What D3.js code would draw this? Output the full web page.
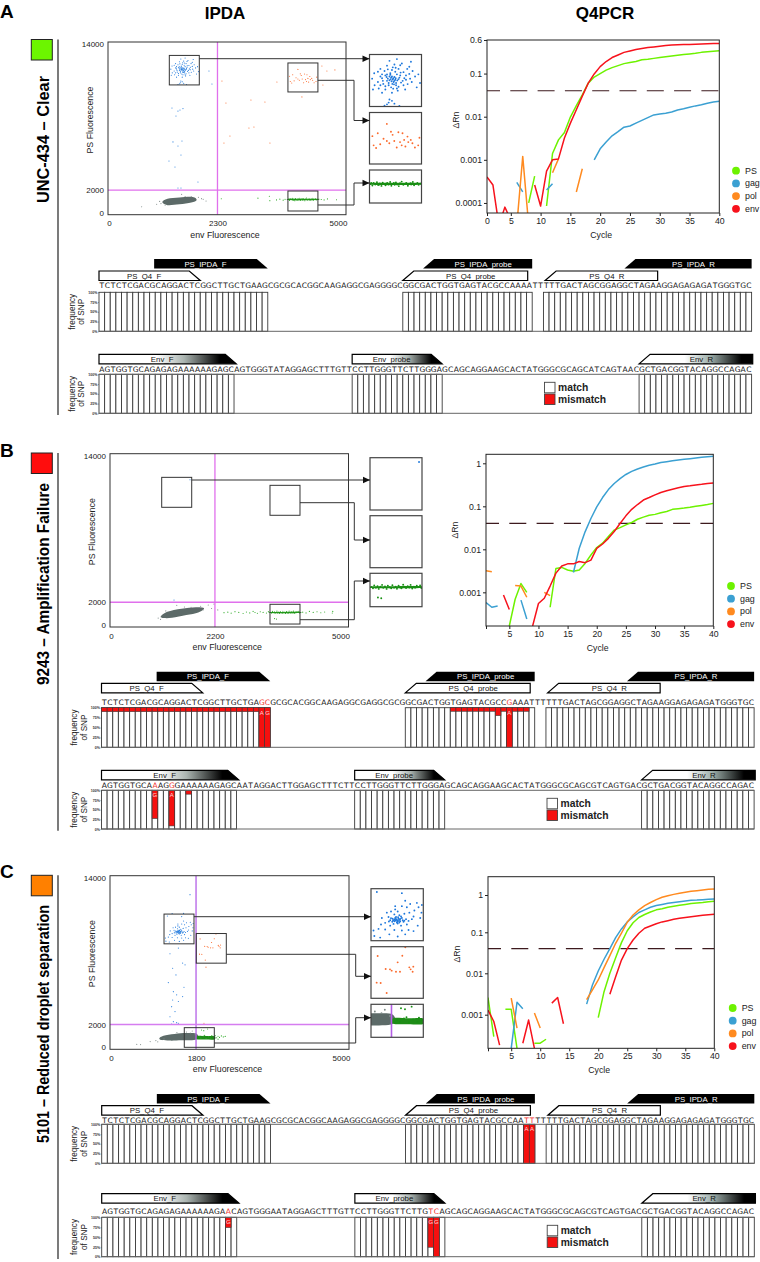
<!DOCTYPE html>
<html>
<head>
<meta charset="utf-8">
<script src="https://cdn.jsdelivr.net/npm/d3@7"></script>
<style>
  html, body { margin: 0; padding: 0; background: #fff; }
  svg { display: block; font-family: "Liberation Sans", Arial, sans-serif; }
  .seq { font-family: "DejaVu Sans", sans-serif; }
</style>
</head>
<body>
<div id="chart"></div>
<script>
// ---- droplet values, [env, PS] fluorescence ----
const blueA = [[1560,11900],[1600,11750],[1510,11800],[1480,11950],[1540,12050],[1620,12000],[1650,11850],[1580,11650],[1520,11600],[1450,11700],[1420,11900],[1390,11650],[1470,12150],[1560,12200],[1640,12250],[1700,12100],[1730,11950],[1690,11700],[1750,11550],[1610,11500],[1550,11400],[1480,11450],[1400,11350],[1350,11500],[1320,11800],[1345,12050],[1420,12250],[1500,12400],[1590,12450],[1680,12500],[1770,12350],[1810,12150],[1840,11900],[1800,11650],[1860,11400],[1720,11300],[1630,11250],[1560,11150],[1440,11150],[1520,10700],[1500,10620],[1560,10780],[1590,10650],[1470,10560],[1650,10550],[1540,11980],[1575,11820],[1530,11730],[1590,11880],[1610,11600],[1495,11880],[1660,11950],[1440,12000],[1700,11500],[1625,11720],[1565,11560],[1455,11560],[1745,12250],[1390,12120],[1330,11300],[1790,12580],[1620,12700],[1530,12620],[1900,11600],[1880,12000],[1660,12420],[1570,12320],[1730,11750],[1510,12230],[1600,12120],
  [1550,11850],[1570,11760],[1590,11700],[1530,11900],[1605,11820],[1640,11780],[1555,11680],[1500,11700],[1670,11620],[1585,11540],[1520,11500],[1640,11430],[1575,11340],[1665,12080],[1605,12300],[1545,11780],[1500,11990],[1710,11820],[1440,11820],[1480,11300],[1530,10840],[1620,11350],[1780,11800],[1770,12020],[1420,11500],
  [2121,11650],[2184,10600],[1344,8650],[1512,8490],[1575,8600],[1428,8000],[1470,8400],[1365,5900],[1470,5570],[1554,5980],[1281,4350],[1407,3870],[1533,4840],[1470,2170],[1533,2170],[1890,2650]];
const orangeA = [[3815,11220],[3880,11350],[3950,11100],[3910,10850],[3990,11000],[3830,10800],[4060,11280],[4080,11000],[4130,11400],[4180,11350],[4200,11050],[4170,10800],[4240,11200],[4250,10950],[4300,10900],[4385,11150],[4370,10800],[3990,11780],[4110,10700],[4020,10900],[4150,10950],[4215,10750],[4040,11420],[4280,11050],[3860,10680],[4330,10700],
  [2394,10840],[2478,9060],[3003,9300],[3297,9140],[3549,10760],[4074,9550],[2961,7030],[3066,7110],[2562,6380],[2436,5810],[3402,5810],[4494,12060],[4599,11650],[4767,11740],[4515,10520]];
const greenA = [[3790,1230],[3815,1160],[3830,1290],[3850,1210],[3870,1320],[3885,1180],[3905,1260],[3925,1140],[3940,1300],[3960,1220],[3975,1170],[3995,1280],[4010,1200],[4030,1330],[4045,1150],[4065,1240],[4085,1190],[4100,1310],[4115,1210],[4135,1130],[4150,1270],[4170,1350],[4190,1190],[4205,1230],[4225,1290],[4245,1150],[4265,1250],[4285,1210],[4305,1330],[4320,1170],[4340,1240],[4360,1290],[4375,1190],[4395,1260],[3800,1290],[3900,1200],[3980,1250],[4075,1280],[4180,1240],[4280,1270],
  [2380,1290],[3150,1340],[3390,1500],[3400,1140],[3540,1200],[3610,1260],[3680,1180],[3720,1250],[4480,1230],[4540,1200],[4610,1280],[4800,1210],[4430,1260]];
const grayA = [[707,650],[1547,1650],[2060,1110],[1966,1300],[1022,850],[1113,900],[1900,1420],[1085,1080],[2000,1250],[1620,1480],[1200,780],[1750,1450]];
const hullA = [[1141,1020],[1250,1290],[1500,1400],[1780,1440],[1862,1200],[1750,980],[1500,840],[1250,770]];
const bandA = [[3790,1280],[4100,1290],[4400,1280],[4400,1190],[4100,1180],[3790,1190]];

const blueB = [[1677,11890],[1342,2180]];
const orangeB = [];
const greenB = [[3370,1180],[3390,1120],[3405,1260],[3425,1150],[3445,1220],[3460,1090],[3480,1190],[3500,1280],[3515,1140],[3535,1210],[3555,1090],[3570,1240],[3590,1170],[3610,1120],[3625,1270],[3645,1150],[3665,1200],[3680,1100],[3700,1240],[3720,1160],[3735,1120],[3755,1290],[3775,1190],[3790,1130],[3810,1220],[3830,1160],[3845,1280],[3865,1110],[3885,1200],[3900,1150],[3920,1240],[3940,1180],[3960,1260],[3975,1130],[3450,680],[3490,640],
  [2390,1160],[2470,1200],[2540,1120],[2620,1240],[2700,1180],[2790,1090],[2860,1210],[2930,1140],[3000,1260],[3040,1170],[3090,1110],[3150,1230],[3210,1180],[3280,1130],[3320,1240],[4040,1200],[4110,1140],[4180,1260],[4260,1180],[4340,1230],[4420,1150],[4500,1210],[4670,1260],[4660,1130]];
const grayB = [[1060,620],[1400,1750],[1560,1620],[1900,1680],[2060,1780],[2180,1850],[2260,1380],[1010,720],[1700,1600],[1950,1380],[2130,1500],[1170,1300]];
const hullB = [[1062,850],[1200,1230],[1500,1480],[1800,1600],[1971,1520],[1850,1170],[1600,960],[1300,740],[1130,720]];
const bandB = [[3360,1210],[3670,1220],[3980,1220],[3980,1130],[3670,1120],[3360,1130]];

const blueC = [[1437,9465],[1460,9520],[1410,9400],[1480,9400],[1390,9520],[1430,9600],[1500,9550],[1360,9450],[1450,9300],[1400,9280],[1520,9380],[1340,9600],[1470,9680],[1410,9720],[1550,9500],[1580,9420],[1300,9330],[1360,9200],[1490,9200],[1560,9250],[1620,9500],[1640,9620],[1530,9750],[1450,9850],[1370,9850],[1590,9800],[1650,9900],[1700,10050],[1680,10250],[1560,10050],[1500,10100],[1420,10100],[1600,10200],[1540,10350],[1420,9950],[1320,9800],[1260,9550],[1250,9250],[1220,9050],[1300,9020],[1410,9000],[1500,8980],[1580,9000],[1160,8980],[1170,8720],[1240,8650],[1350,8800],[1450,8700],[1540,8800],[1640,8950],[1690,9200],[1720,9550],[1735,9800],[1500,10700],[1200,10750],[1740,10150],[1470,9470],[1420,9510],[1445,9380],[1395,9450],
  [1425,9430],[1450,9440],[1465,9410],[1435,9500],[1410,9470],[1480,9510],[1510,9450],[1385,9380],[1440,9340],[1470,9340],[1420,9560],[1455,9590],[1370,9540],[1530,9430],[1345,9390],[1490,9620],
  [1255,7700],[1430,8160],[1520,6950],[1570,6810],[1311,6540],[1380,6000],[1220,5380],[1548,5010],[1325,4650],[1395,4390],[1311,3980],[1430,3850],[1290,3440],[1520,4250],[1360,3040],[1255,2630],[1325,2230],[1395,2150],[1290,2040],[1430,2100],[1674,12470],[1300,10950],[1540,10960]];
const orangeC = [[1885,8905],[2181,8921],[2125,8612],[2033,8288],[1981,8304],[2053,8227],[2105,8180],[2153,8180],[2265,8381],[2313,8412],[2281,8288],[2305,8180],[1873,7672],[1921,7656],[1993,7194],[2217,9306],[2008,6626],[1966,2100]];
const greenC = [[1914,1553],[1962,1505],[2042,1633],[1870,1010],[1900,900],[1950,1060],[2010,880],[2060,1020],[2110,900],[2170,990],[2200,1100],[2230,930],[2260,1050],[2290,960],[2330,1080],[2370,1000],[2410,1040],[2260,820],[1980,1120],[2130,1100]];
const grayC = [[1000,600],[840,620],[1130,840],[960,700],[1680,1320],[1720,1480],[1600,1400],[1400,1350],[1780,1180],[640,380],[560,400]];
const hullC = [[1031,880],[1120,1100],[1350,1240],[1600,1310],[1813,1260],[1813,800],[1500,720],[1250,700],[1090,740]];
const bandC = [[1820,1080],[2000,1070],[2185,1060],[2185,800],[2000,790],[1820,810]];

// gates as [env from, env to, PS from, PS to], order blue, orange, green
const gatesA = [[1288,1918,10520,12912],[3780,4410,9950,12300],[3780,4410,300,1920]];
const gatesB = [[1084,1713,9670,12090],[3354,3983,9025,11445],[3354,3983,240,1835]];
const gatesC = [[1130,1757,8506,10905],[1805,2433,6947,9337],[1554,2182,160,1745]];

// ---- Q4PCR curves, one value per cycle 1..40, null where nothing was drawn ----
const psA = [null,null,null,null,null,null,null,.0001,.00042,null,.000085,.0014,.0029,.0043,.0098,.018,.032,.06,.083,.1,.12,.137,.153,.17,.18,.19,.21,.215,.225,.235,.245,.255,.265,.275,.285,.295,.31,.32,.33,.34];
const gagA = [null,null,null,null,null,.0003,.00018,null,null,null,.0002,.00028,null,null,null,null,null,null,.001,.0018,.0026,.0036,.0045,.0057,.0061,.0071,.0082,.0095,.011,.0115,.012,.0128,.0143,.0153,.0165,.0178,.019,.0205,.0218,.0227];
const polA = [null,null,null,null,null,.00003,.0012,.00003,null,null,null,.0005,.00105,null,null,.00018,.00062,null,null,null,null,null,null,null,null,null,null,null,null,null,null,null,null,null,null,null,null,null,null,null];
const envA = [.0004,.00026,.00003,.00008,.00004,null,null,null,.00026,.000085,.00055,.001,.00105,.0032,.0071,.0145,.03,.06,.098,.145,.19,.235,.27,.31,.335,.36,.38,.4,.415,.43,.445,.46,.465,.47,.475,.48,.485,.49,.495,.5];

const psB = [null,null,null,null,.000165,.00069,.0016,.001,null,null,null,.00045,.0036,.0038,.0033,.0031,.0033,.0047,.0074,.011,.0139,.0198,.028,.032,.037,.042,.05,.056,.062,.065,.071,.076,.085,.088,.091,.095,.1,.105,.11,.117];
const gagB = [.00058,.00045,.00048,null,null,null,.00066,.00024,null,null,null,null,null,null,null,.0029,.0106,.0255,.052,.097,.16,.245,.34,.44,.55,.65,.74,.82,.9,.96,1.04,1.09,1.15,1.2,1.24,1.28,1.33,1.38,1.43,1.45];
const polB = [.0032,.003,null,null,null,.00145,.0014,.00077,null,null,.001,.00084,null,null,null,null,null,null,null,null,null,null,null,null,null,null,null,null,null,null,null,null,null,null,null,null,null,null,null,null];
const envB = [null,null,null,.00087,.0004,null,null,null,.000165,.00055,.00073,.0014,.0028,.0041,.0046,.0046,.0052,.0049,.0056,.0105,.0133,.018,.026,.04,.06,.085,.11,.14,.16,.185,.21,.23,.25,.27,.29,.3,.315,.325,.34,.35];

const psC = [.0026,.00029,null,.00135,.00135,.00015,null,null,.0002,.0002,.00025,null,null,null,null,null,null,null,null,.00085,.0036,.01,.024,.056,.11,.18,.25,.3,.35,.4,.43,.47,.5,.53,.56,.59,.61,.63,.66,.68];
const gagC = [null,null,null,null,.00015,.002,.0014,null,null,null,null,null,null,null,null,null,null,.0018,.0052,.0114,.022,.04,.074,.123,.19,.26,.34,.4,.47,.52,.56,.6,.63,.66,.69,.72,.73,.75,.77,.78];
const polC = [null,null,null,null,.0025,.00047,null,null,.0011,.00047,null,null,null,null,null,null,null,.0023,.004,.0069,.0137,.027,.054,.096,.186,.29,.4,.52,.63,.75,.87,.96,1.04,1.11,1.18,1.26,1.31,1.36,1.42,1.45];
const envC = [.0013,.00068,.00018,null,null,null,.0002,.00074,.00015,null,null,.0019,.0026,.0006,null,null,null,null,null,null,null,.0031,.0083,.021,.04,.065,.095,.128,.148,.17,.19,.205,.223,.237,.25,.263,.274,.285,.297,.303];

const seriesNames = ['PS', 'gag', 'pol', 'env'];
const seriesColors = ['#6df200', '#3ba0d2', '#ff8a1f', '#f7121c'];
const cycleTicks = [1, 5, 10, 15, 20, 25, 30, 35, 40];
const threshold = 0.04;

// ---- amplicon sequences ----
const seqA1 = 'TCTCTCGACGCAGGACTCGGCTTGCTGAAGCGCGCACGGCAAGAGGCGAGGGGCGGCGACTGGTGAGTACGCCAAAATTTTTGACTAGCGGAGGCTAGAAGGAGAGAGATGGGTGC';
const seqA2 = 'AGTGGTGCAGAGAGAAAAAAGAGCAGTGGGTATAGGAGCTTTGTTCCTTGGGTTCTTGGGAGCAGCAGGAAGCACTATGGGCGCAGCATCAGTAACGCTGACGGTACAGGCCAGAC';
const seqB1 = 'TCTCTCGACGCAGGACTCGGCTTGCTGAGCGCGCACGGCAAGAGGCGAGGCGCGGCGACTGGTGAGTACGCCGAAATTTTTTGACTAGCGGAGGCTAGAAGGAGAGAGATGGGTGC';
const seqB2 = 'AGTGGTGCAAAGGGAAAAAAGAGCAATAGGACTTGGAGCTTTCTTCCTTGGGTTCTTGGGAGCAGCAGGAAGCACTATGGGCGCAGCGTCAGTGACGCTGACGGTACAGGCCAGAC';
const seqC1 = 'TCTCTCGACGCAGGACTCGGCTTGCTGAAGCGCGCACGGCAAGAGGCGAGGGGCGGCGACTGGTGAGTACGCCAATTTTTTTGACTAGCGGAGGCTAGAAGGAGAGAGATGGGTGC';
const seqC2 = 'AGTGGTGCAGAGAGAAAAAAGAACAGTGGGAATAGGAGCTTTGTTCCTTGGGTTCTTGTCAGCAGCAGGAAGCACTATGGGCGCAGCGTCAGTGACGCTGACGGTACAGGCCAGAC';

// primer sites, bases covered
const sites1 = [[0, 30], [54, 77], [79, 116]];
const sites2 = [[0, 24], [45, 61], [96, 116]];
// name, from base, to base, pointing side, fill, upper tier
const primers1 = [
  ['PS_IPDA_F', 9.8, 30, 'right', 'black', true],
  ['PS_Q4_F', 0, 18, 'right', 'white', false],
  ['PS_IPDA_probe', 57.6, 77, 'left', 'black', true],
  ['PS_Q4_probe', 54, 76.2, 'left', 'white', false],
  ['PS_IPDA_R', 93.4, 116, 'left', 'black', true],
  ['PS_Q4_R', 79.3, 99.3, 'left', 'white', false]
];
const primers2 = [
  ['Env_F', 0, 24.4, 'right', 'fade', true],
  ['Env_probe', 45, 61, 'right', 'fade', true],
  ['Env_R', 96, 116.2, 'left', 'fadeR', true]
];

// mismatches: [base, % of reads, variant letter]
const snpA1 = [], snpA2 = [];
const snpB1 = [[0,10],[1,10],[2,10],[3,10],[4,10],[5,10],[6,10],[7,10],[8,10],[9,10],[10,10],[11,10],[12,10],[13,10],[14,10],[15,10],[16,10],[17,10],[18,10],[19,10],[20,10],[21,10],[22,10],[23,10],[24,10],[25,10],[26,10],[27,10],[28,100,'A'],[29,100,'G'],
  [62,9],[63,9],[64,9],[65,9],[66,9],[67,9],[68,9],[69,9],[70,20],[71,9],[72,100,'A'],[73,9],[74,9],[75,9]];
const snpB2 = [[9,73,'G'],[12,92,'A'],[15,10]];
const snpC1 = [[75,100,'A'],[76,100,'A']];
const snpC2 = [[22,26,'G'],[58,76,'G'],[59,100,'G']];
const snpTicks = [0, 25, 50, 75, 100];

// ---- page layout ----
const width = 760, height = 1262;
const ink = '#333';
const svg = d3.select('#chart').append('svg').attr('width', width).attr('height', height);
const defs = svg.append('defs');

function addFade(id, stops) {
  const g = defs.append('linearGradient').attr('id', id);
  stops.forEach(s => g.append('stop').attr('offset', s[0]).attr('stop-color', s[1]));
}
addFade('fade', [[0, '#fff'], [0.42, '#fff'], [0.62, '#aab4b0'], [0.88, '#000'], [1, '#000']]);
addFade('fadeR', [[0, '#fff'], [0.4, '#fff'], [0.62, '#9fb0ac'], [0.9, '#000'], [1, '#000']]);
defs.append('filter').attr('id', 'soft').attr('x', '-10%').attr('y', '-40%').attr('width', '120%').attr('height', '180%')
  .append('feGaussianBlur').attr('stdDeviation', 0.5);

let clipId = 0;
function addClip(x0, y0, w, h) {
  const id = 'clip' + (clipId++);
  defs.append('clipPath').attr('id', id).append('rect')
    .attr('x', x0).attr('y', y0).attr('width', w).attr('height', h);
  return 'url(#' + id + ')';
}

svg.append('text').text('IPDA').attr('x', 225).attr('y', 18.5).attr('text-anchor', 'middle')
  .attr('font-size', 17).attr('font-weight', 700);
svg.append('text').text('Q4PCR').attr('x', 605).attr('y', 18.5).attr('text-anchor', 'middle')
  .attr('font-size', 17).attr('font-weight', 700);

function drawSide(p) {
  svg.append('text').text(p.letter).attr('x', 0).attr('y', p.letterY)
    .attr('font-size', 19).attr('font-weight', 700);
  svg.append('rect').attr('x', 31.3).attr('y', p.swatchY).attr('width', 21).attr('height', 20.5)
    .attr('fill', p.color).attr('stroke', '#222').attr('stroke-width', 1);
  svg.append('line').attr('x1', 58).attr('x2', 58).attr('y1', p.swatchY).attr('y2', p.ruleEnd)
    .attr('stroke', '#222').attr('stroke-width', 1.2);
  svg.append('text').text(p.title)
    .attr('transform', 'translate(48.5,' + p.titleY + ') rotate(-90)')
    .attr('text-anchor', 'middle').attr('font-size', 17).attr('font-weight', 700)
    .attr('textLength', p.titleLength).attr('lengthAdjust', 'spacingAndGlyphs');
}

function drawScatter(p) {
  const s = p.scatter;
  const x = d3.scaleLinear().domain([0, 5000]).range([s.x0, s.x1]);
  const y = d3.scaleLinear().domain([0, 14000]).range([s.y0, s.y1]);
  const g = svg.append('g');

  function drawDroplets(parent, sx, sy, r, greenFill) {
    const hull = d3.line().x(d => sx(d[0])).y(d => sy(d[1])).curve(d3.curveCardinalClosed);
    parent.append('path').attr('d', hull(p.hull)).attr('fill', '#5b6a67').attr('filter', 'url(#soft)');
    parent.append('path').attr('d', hull(p.band)).attr('fill', '#1e8c17');
    [[p.gray, '#7d8a87'], [p.blue, '#1e78dc'], [p.orange, '#fb6a2c'], [p.green, greenFill]].forEach(layer => {
      parent.append('g').selectAll('circle').data(layer[0]).enter().append('circle')
        .attr('cx', d => sx(d[0])).attr('cy', d => sy(d[1])).attr('r', r).attr('fill', layer[1]);
    });
  }

  const plot = g.append('g').attr('clip-path', addClip(s.x0, s.y1, s.x1 - s.x0, s.y0 - s.y1));
  drawDroplets(plot, x, y, 0.55, '#2aa822');

  // thresholds
  const cutX = x(p.envCut), cutY = y(2000);
  plot.append('line').attr('x1', cutX).attr('x2', cutX).attr('y1', s.y0).attr('y2', s.y1)
    .attr('stroke', p.vLine).attr('stroke-width', 1.3);
  plot.append('line').attr('x1', s.x0).attr('x2', s.x1).attr('y1', cutY).attr('y2', cutY)
    .attr('stroke', p.hLine).attr('stroke-width', 1.3);

  g.append('rect').attr('x', s.x0).attr('y', s.y1).attr('width', s.x1 - s.x0).attr('height', s.y0 - s.y1)
    .attr('fill', 'none').attr('stroke', ink).attr('stroke-width', 1);

  // axes
  const xAxis = d3.axisBottom(x).tickValues([0, p.envCut, 5000]).tickSize(0).tickPadding(6).tickFormat(d3.format('d'));
  const yAxis = d3.axisLeft(y).tickValues([0, 2000, 14000]).tickSize(0).tickPadding(4).tickFormat(d3.format('d'));
  const xa = g.append('g').attr('transform', 'translate(0,' + s.y0 + ')').call(xAxis);
  const ya = g.append('g').attr('transform', 'translate(' + s.x0 + ',0)').call(yAxis);
  [xa, ya].forEach(a => {
    a.select('.domain').remove();
    a.selectAll('text').attr('font-size', 8).attr('font-family', null).attr('fill', '#222');
  });
  xa.selectAll('text').filter(d => d === 5000).attr('dx', -8);
  xa.selectAll('text').filter(d => d === 0).attr('dx', 1);
  ya.selectAll('text').filter(d => d === 14000).attr('dy', '0.32em').attr('y', 2);
  ya.selectAll('text').filter(d => d === 0).attr('y', -2);
  g.append('text').text('env Fluorescence').attr('x', (s.x0 + s.x1) / 2 - 2).attr('y', s.y0 + 23)
    .attr('text-anchor', 'middle').attr('font-size', 8.8).attr('fill', '#222');
  g.append('text').text('PS Fluorescence')
    .attr('transform', 'translate(' + (s.x0 - 15) + ',' + (s.y1 + 78) + ') rotate(-90)')
    .attr('text-anchor', 'middle').attr('font-size', 8.8).attr('fill', '#222');

  // gates and their zoomed insets
  p.gates.forEach((gate, i) => {
    const box = p.insets[i];
    g.append('rect').attr('x', x(gate[0])).attr('y', y(gate[3]))
      .attr('width', x(gate[1]) - x(gate[0])).attr('height', y(gate[2]) - y(gate[3]))
      .attr('fill', 'none').attr('stroke', '#333').attr('stroke-width', 1);

    const ix = d3.scaleLinear().domain([gate[0], gate[1]]).range([box.x0, box.x1]);
    const iy = d3.scaleLinear().domain([gate[2], gate[3]]).range([box.y1, box.y0]);
    const inset = g.append('g').attr('clip-path', addClip(box.x0, box.y0, box.x1 - box.x0, box.y1 - box.y0));
    drawDroplets(inset, ix, iy, 0.95, '#169012');
    if (p.letter === 'C' && i === 2) {
      const lineX = ix(p.envCut);
      inset.append('line').attr('x1', lineX).attr('x2', lineX).attr('y1', box.y0).attr('y2', box.y1)
        .attr('stroke', p.vLine).attr('stroke-width', 1.6);
    }
    g.append('rect').attr('x', box.x0).attr('y', box.y0).attr('width', box.x1 - box.x0).attr('height', box.y1 - box.y0)
      .attr('fill', 'none').attr('stroke', '#444').attr('stroke-width', 1.2);

    // connector
    const start = [x(gate[1]), box.fromY];
    const tip = [box.x0, box.toY];
    const pts = box.fromY === box.toY ? [start, tip]
      : [start, [p.elbow, box.fromY], [p.elbow, box.toY], tip];
    g.append('path').attr('d', d3.line()(pts)).attr('fill', 'none').attr('stroke', '#333').attr('stroke-width', 1);
    g.append('path').attr('d', d3.line()([[tip[0], tip[1]], [tip[0] - 7, tip[1] - 3.2], [tip[0] - 7, tip[1] + 3.2]]))
      .attr('fill', '#111');
  });
}

function drawQpcr(p) {
  const q = p.qpcr;
  const x = d3.scaleLinear().domain([1, 40]).range([q.x0, q.x1]);
  const y = d3.scaleLog().domain(q.domain).range(q.range);
  const g = svg.append('g');
  const plot = g.append('g').attr('clip-path', addClip(q.x0, q.range[q.range.length - 1], q.x1 - q.x0, q.range[0] - q.range[q.range.length - 1]));

  plot.append('line').attr('x1', q.x0).attr('x2', q.x1).attr('y1', y(threshold)).attr('y2', y(threshold))
    .attr('stroke', '#3d1a1e').attr('stroke-width', 1.2).attr('stroke-dasharray', '17,10.3').attr('stroke-dashoffset', 4);

  const line = d3.line().defined(d => d !== null).x((d, i) => x(i + 1)).y(d => y(d));
  p.curves.forEach((c, i) => {
    plot.append('path').datum(c).attr('d', line).attr('fill', 'none')
      .attr('stroke', seriesColors[i]).attr('stroke-width', 1.5).attr('stroke-linejoin', 'round');
  });

  const top = q.range[q.range.length - 1];
  g.append('rect').attr('x', q.x0).attr('y', top).attr('width', q.x1 - q.x0).attr('height', q.range[0] - top)
    .attr('fill', 'none').attr('stroke', '#222').attr('stroke-width', 1);

  const xAxis = d3.axisBottom(x).tickValues(cycleTicks).tickSize(3).tickPadding(2)
    .tickFormat(d => d === 1 ? p.firstCycleLabel : d);
  const yAxis = d3.axisLeft(y).tickValues(q.ticks).tickSize(3).tickPadding(2).tickFormat(d => String(d));
  const xa = g.append('g').attr('transform', 'translate(0,' + q.range[0] + ')').call(xAxis);
  const ya = g.append('g').attr('transform', 'translate(' + q.x0 + ',0)').call(yAxis);
  [xa, ya].forEach(a => {
    a.select('.domain').remove();
    a.selectAll('line').attr('stroke', '#222');
    a.selectAll('text').attr('font-size', 8.7).attr('font-family', null).attr('fill', '#222');
  });
  g.append('text').text('Cycle').attr('x', (q.x0 + q.x1) / 2 - 2).attr('y', q.range[0] + 25)
    .attr('text-anchor', 'middle').attr('font-size', 8.7).attr('fill', '#222');
  g.append('text').text('ΔRn')
    .attr('transform', 'translate(' + (q.x0 - 28) + ',' + q.labelY + ') rotate(-90)')
    .attr('text-anchor', 'middle').attr('font-size', 8.7).attr('fill', '#222');

  // legend
  seriesNames.forEach((name, i) => {
    const ly = q.legendY + i * q.legendStep;
    g.append('circle').attr('cx', q.legendX).attr('cy', ly).attr('r', 3.9).attr('fill', seriesColors[i]);
    g.append('text').text(name).attr('x', q.legendX + 9).attr('y', ly + 3).attr('font-size', 8.9).attr('fill', '#222');
  });
}

function drawRow(p, r) {
  const base = d3.scaleLinear().domain([0, 116]).range([p.seqX, p.seqX + 652.6]);
  const step = base(1) - base(0);
  const f = d3.scaleLinear().domain([0, 100]).range([r.bottom, r.top]);
  const g = svg.append('g');
  const snpAt = new Map(r.snps.map(d => [d[0], d]));

  // primers
  r.primers.forEach(d => {
    const [name, from, to, side, fill, upper] = d;
    const y0 = upper ? r.primerY : r.lowerY, y1 = y0 + 9.5;
    const a = base(from), b = base(to), cut = 11;
    const outline = side === 'right'
      ? [[a, y0], [b - cut, y0], [b, y1], [a, y1]]
      : [[a + cut, y0], [b, y0], [b, y1], [a, y1]];
    g.append('path').attr('d', d3.line()(outline) + 'Z')
      .attr('fill', fill === 'black' ? '#000' : fill === 'white' ? '#fff' : 'url(#' + fill + ')')
      .attr('stroke', fill === 'black' ? 'none' : '#000').attr('stroke-width', 1.2);
    const mid = side === 'right' ? (a + b - cut) / 2 : (a + cut + b) / 2;
    g.append('text').text(name).attr('x', mid).attr('y', y0 + 7.5).attr('text-anchor', 'middle')
      .attr('font-size', 7.8).attr('fill', fill === 'black' ? '#fff' : '#111');
  });

  // sequence, one tspan per base so it stays on the base grid
  const seq = g.append('text').attr('class', 'seq').attr('y', r.textY + 2.7).attr('font-size', 7.5).attr('text-anchor', 'middle');
  seq.selectAll('tspan').data(r.seq.split('')).enter().append('tspan')
    .attr('x', (d, i) => base(i) + step / 2)
    .attr('fill', (d, i) => snpAt.has(i) && snpAt.get(i)[2] ? '#f0302c' : '#111')
    .text(d => d);

  // frequency bars
  const cells = [];
  r.sites.forEach(s => d3.range(s[0], s[1]).forEach(i => cells.push(i)));
  g.append('g').selectAll('rect').data(cells).enter().append('rect')
    .attr('x', i => base(i)).attr('y', r.top).attr('width', step).attr('height', r.bottom - r.top)
    .attr('fill', '#fff').attr('stroke', '#3a3a3a').attr('stroke-width', 0.9);
  g.append('g').selectAll('rect').data(r.snps).enter().append('rect')
    .attr('x', d => base(d[0])).attr('y', r.top).attr('width', step).attr('height', d => f(100 - d[1]) - r.top)
    .attr('fill', '#f5100f').attr('stroke', '#3a3a3a').attr('stroke-width', 0.6);
  g.append('g').selectAll('text').data(r.snps.filter(d => d[2])).enter().append('text')
    .attr('x', d => base(d[0]) + step / 2).attr('y', r.top + 7).attr('text-anchor', 'middle')
    .attr('font-size', 6).attr('fill', '#ffd9d9').text(d => d[2]);

  g.append('line').attr('x1', base(0)).attr('x2', base(116)).attr('y1', r.bottom).attr('y2', r.bottom)
    .attr('stroke', '#666').attr('stroke-width', 1);
  if (r.topLine) {
    g.append('line').attr('x1', base(0)).attr('x2', base(116)).attr('y1', r.top).attr('y2', r.top)
      .attr('stroke', '#666').attr('stroke-width', 1);
  }

  // axis
  const axis = d3.axisLeft(f).tickValues(snpTicks).tickSize(1).tickPadding(0.6).tickFormat(d => d + '%');
  const a = g.append('g').attr('transform', 'translate(' + base(0) + ',0)').call(axis);
  a.select('.domain').remove();
  a.selectAll('line').attr('stroke', '#444').attr('stroke-width', 0.5);
  a.selectAll('text').attr('font-size', 3.6).attr('font-weight', 700).attr('font-family', null).attr('fill', '#333');
  const mid = (r.top + r.bottom) / 2;
  ['frequency', 'of SNP'].forEach((t, i) => {
    g.append('text').text(t)
      .attr('transform', 'translate(' + (base(0) - 24.5 + i * 9.6) + ',' + mid + ') rotate(-90)')
      .attr('text-anchor', 'middle').attr('font-size', 8.2).attr('fill', '#222');
  });

  // match / mismatch key sits in the lower track only
  if (r.key) {
    const kx = p.seqX + 445.5;
    [['match', '#fff'], ['mismatch', '#f5100f']].forEach((k, i) => {
      const ky = r.top + 8 + i * 11.7;
      g.append('rect').attr('x', kx).attr('y', ky).attr('width', 10.5).attr('height', 10.5)
        .attr('fill', k[1]).attr('stroke', '#444').attr('stroke-width', 0.9);
      g.append('text').text(k[0]).attr('x', kx + 13.5).attr('y', ky + 8.5)
        .attr('font-size', 10.3).attr('font-weight', 700).attr('fill', '#222');
    });
  }
}

const panels = [
  {
    letter: 'A', letterY: 18, color: '#6cf500', swatchY: 39.5, ruleEnd: 415, title: 'UNC-434 – Clear', titleY: 139.5, titleLength: 127,
    envCut: 2300, vLine: '#e070ec', hLine: '#e070ec', elbow: 354,
    blue: blueA, orange: orangeA, green: greenA, gray: grayA, hull: hullA, band: bandA, gates: gatesA,
    scatter: { x0: 108, x1: 346, y0: 214.7, y1: 42 },
    insets: [
      { x0: 369.5, x1: 421.5, y0: 54.5, y1: 106.5, fromY: 58.7, toY: 58.7 },
      { x0: 369.5, x1: 421.5, y0: 112.5, y1: 164, fromY: 80.3, toY: 120.5 },
      { x0: 369.5, x1: 421.5, y0: 170, y1: 203, fromY: 205, toY: 183 }
    ],
    curves: [psA, gagA, polA, envA], firstCycleLabel: '0',
    qpcr: { x0: 487, x1: 719.3, domain: [0.0000585, 0.6], range: [213, 40], ticks: [0.0001, 0.001, 0.01, 0.1, 0.6],
      labelY: 120, legendX: 736, legendY: 170.7, legendStep: 12.7 },
    seqX: 99,
    rows: [
      { seq: seqA1, sites: sites1, primers: primers1, snps: snpA1, textY: 285.7, top: 292.3, bottom: 331.3, primerY: 259, lowerY: 271, topLine: false },
      { seq: seqA2, sites: sites2, primers: primers2, snps: snpA2, textY: 369, top: 374.3, bottom: 413.3, primerY: 354.3, topLine: true, key: true }
    ]
  },
  {
    letter: 'B', letterY: 457, color: '#ff0d0d', swatchY: 453, ruleEnd: 830.7, title: '9243 – Amplification Failure', titleY: 584, titleLength: 202,
    envCut: 2200, vLine: '#e070ec', hLine: '#e070ec', elbow: 354.3,
    blue: blueB, orange: orangeB, green: greenB, gray: grayB, hull: hullB, band: bandB, gates: gatesB,
    scatter: { x0: 110, x1: 348.5, y0: 627, y1: 453.7 },
    insets: [
      { x0: 370, x1: 422, y0: 457.7, y1: 510, fromY: 480, toY: 480 },
      { x0: 370, x1: 422, y0: 515.7, y1: 567.7, fromY: 502.7, toY: 540 },
      { x0: 370, x1: 422, y0: 573.3, y1: 606.7, fromY: 619.7, toY: 581 }
    ],
    curves: [psB, gagB, polB, envB], firstCycleLabel: '',
    qpcr: { x0: 486, x1: 713.3, domain: [0.000165, 1.62], range: [626, 454.3], ticks: [0.001, 0.01, 0.1, 1],
      labelY: 530, legendX: 731, legendY: 586, legendStep: 12.7 },
    seqX: 101.5,
    rows: [
      { seq: seqB1, sites: sites1, primers: primers1, snps: snpB1, textY: 702.3, top: 707.7, bottom: 747.3, primerY: 671.7, lowerY: 683.3, topLine: false },
      { seq: seqB2, sites: sites2, primers: primers2, snps: snpB2, textY: 785.7, top: 790.3, bottom: 829, primerY: 770.3, topLine: true, key: true }
    ]
  },
  {
    letter: 'C', letterY: 878, color: '#ff8000', swatchY: 875.3, ruleEnd: 1259, title: '5101 – Reduced droplet separation', titleY: 1024, titleLength: 238,
    envCut: 1800, vLine: '#b45fe6', hLine: '#d57df0', elbow: 355.7,
    blue: blueC, orange: orangeC, green: greenC, gray: grayC, hull: hullC, band: bandC, gates: gatesC,
    scatter: { x0: 110, x1: 349, y0: 1049.3, y1: 875.7 },
    insets: [
      { x0: 371, x1: 423.3, y0: 888.7, y1: 940.7, fromY: 916.7, toY: 916.7 },
      { x0: 371, x1: 423.3, y0: 946.7, y1: 998.3, fromY: 954.3, toY: 976.3 },
      { x0: 371, x1: 423.3, y0: 1004.3, y1: 1037.3, fromY: 1043, toY: 1017.7 }
    ],
    curves: [psC, gagC, polC, envC], firstCycleLabel: '',
    qpcr: { x0: 488, x1: 714.3, domain: [0.00015, 0.001, 0.01, 0.1, 1, 3.1], range: [1048.3, 1014.7, 973.3, 932.3, 895, 876.7], ticks: [0.001, 0.01, 0.1, 1],
      labelY: 954, legendX: 732.7, legendY: 1008, legendStep: 12.7 },
    seqX: 101.7,
    rows: [
      { seq: seqC1, sites: sites1, primers: primers1, snps: snpC1, textY: 1120.7, top: 1124.3, bottom: 1163.3, primerY: 1094, lowerY: 1105.7, topLine: true },
      { seq: seqC2, sites: sites2, primers: primers2, snps: snpC2, textY: 1211.7, top: 1217.3, bottom: 1256.7, primerY: 1193.7, topLine: true, key: true }
    ]
  }
];

panels.forEach(p => {
  drawSide(p);
  drawScatter(p);
  drawQpcr(p);
  p.rows.forEach(r => drawRow(p, r));
});
</script>
</body>
</html>
